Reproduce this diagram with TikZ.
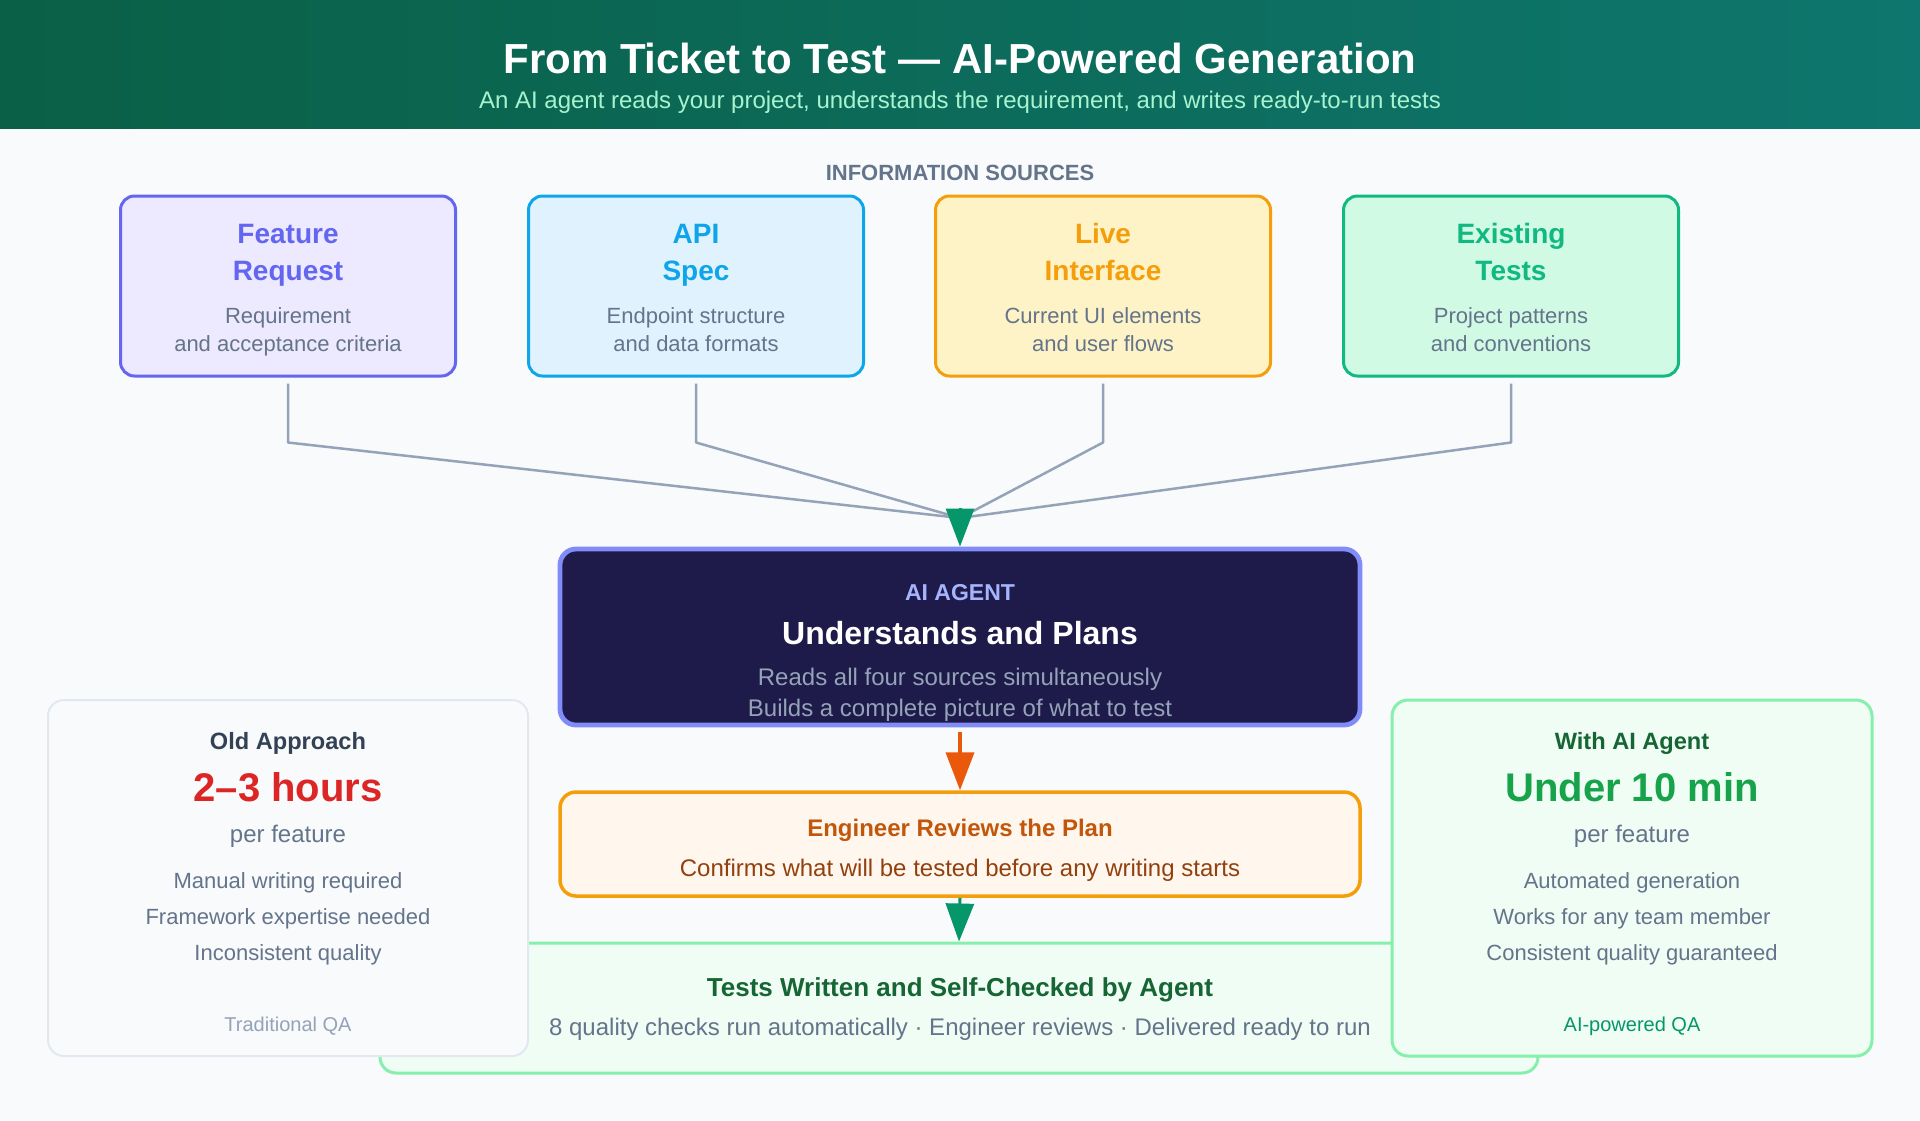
\documentclass[tikz,border=0pt]{standalone}
\usepackage{fontspec}
\setmainfont{Liberation Sans}
\usetikzlibrary{arrows.meta,positioning}

\definecolor{pagebg}{HTML}{F8FAFC}
\definecolor{headl}{HTML}{0A6046}
\definecolor{headr}{HTML}{0E766E}
\definecolor{subtxt}{HTML}{A7F3D0}
\definecolor{slate}{HTML}{64748B}
\definecolor{slatedk}{HTML}{334155}
\definecolor{slatelt}{HTML}{94A3B8}
\definecolor{purpfill}{HTML}{EDE9FE}
\definecolor{purpline}{HTML}{6366F1}
\definecolor{bluefill}{HTML}{E0F2FE}
\definecolor{blueline}{HTML}{0EA5E9}
\definecolor{ambfill}{HTML}{FEF3C7}
\definecolor{ambline}{HTML}{F59E0B}
\definecolor{mintfill}{HTML}{D1FAE5}
\definecolor{mintline}{HTML}{10B981}
\definecolor{agentfill}{HTML}{1E1B4B}
\definecolor{agentline}{HTML}{818CF8}
\definecolor{agentcap}{HTML}{A5B4FC}
\definecolor{arrowgreen}{HTML}{059669}
\definecolor{arroworange}{HTML}{EA580C}
\definecolor{revfill}{HTML}{FFF7ED}
\definecolor{revtitle}{HTML}{C2570C}
\definecolor{revtext}{HTML}{92400E}
\definecolor{okfill}{HTML}{F0FDF4}
\definecolor{okline}{HTML}{86EFAC}
\definecolor{okdark}{HTML}{166534}
\definecolor{okbright}{HTML}{16A34A}
\definecolor{oldline}{HTML}{E2E8F0}
\definecolor{oldred}{HTML}{DC2626}

\begin{document}
\begin{tikzpicture}[x=.5pt,y=-.5pt,every node/.style={text depth=0pt},
  srcbox/.style={rounded corners=7pt,line width=1.5pt,minimum width=167.5pt,minimum height=90pt},
  srctitle/.style={font=\fontsize{14}{18.5}\selectfont\bfseries,align=center},
  srcdesc/.style={font=\fontsize{11}{14}\selectfont,align=center,text=slate},
  feed/.style={draw=slatelt,line width=1.25pt,line join=round},
  wide/.style={rounded corners=8pt,minimum width=400pt},
  sidebox/.style={rounded corners=8pt,minimum width=240pt,minimum height=178pt},
  greenhead/.style={draw=arrowgreen,line width=1.5pt,-{Triangle[length=19pt,width=14pt]}},
  orangehead/.style={draw=arroworange,line width=2pt,-{Triangle[length=19pt,width=14pt]}}]
  \useasboundingbox (0,0) rectangle (1920,1120);
  \fill[pagebg] (0,0) rectangle (1920,1120);
  % header band
  \fill[left color=headl,right color=headr] (0,0) rectangle (1920,128);
  \node[font=\fontsize{21}{24}\selectfont\bfseries,text=white] (title) at (960,58)
    {From Ticket to Test — AI-Powered Generation};
  \node[font=\fontsize{12}{14}\selectfont,text=subtxt] (subtitle) at (960,100)
    {An AI agent reads your project, understands the requirement, and writes ready-to-run tests};
  \node[font=\fontsize{11}{13}\selectfont\bfseries,text=slate] (srchead) at (960,173) {INFORMATION SOURCES};

  % the four sources
  \coordinate (hub) at (960,518);
  \foreach \i/\cx/\bgc/\fgc/\ttl/\dsc in {
    1/288/purpfill/purpline/{Feature\\Request}/{Requirement\\and acceptance criteria},
    2/696/bluefill/blueline/{API\\Spec}/{Endpoint structure\\and data formats},
    3/1103/ambfill/ambline/{Live\\Interface}/{Current UI elements\\and user flows},
    4/1511/mintfill/mintline/{Existing\\Tests}/{Project patterns\\and conventions}}
  {
    \node[srcbox,fill=\bgc,draw=\fgc] (src\i) at (\cx,286) {};
    \node[srctitle,text=\fgc] (srct\i) at (\cx,252) {\ttl};
    \node[srcdesc] (srcd\i) at (\cx,330) {\dsc};
    \draw[feed] ([yshift=-3pt]src\i.south) -- ++(0,59) -- (hub);
  }

  % agent
  \node[wide,minimum height=88pt,fill=agentfill,draw=agentline,line width=2.4pt] (agent) at (960,637) {};
  \node[font=\fontsize{11.5}{13}\selectfont\bfseries,text=agentcap] (agentcap) at (960,592) {AI AGENT};
  \node[font=\fontsize{16}{19}\selectfont\bfseries,text=white] (agentttl) at (960,633) {Understands and Plans};
  \node[font=\fontsize{12}{15.5}\selectfont,text=slatelt,align=center] (agentdsc) at (960,692)
    {Reads all four sources simultaneously\\Builds a complete picture of what to test};
  \coordinate (hubtop) at (960,508);
  \draw[greenhead] (hubtop) -- (agent.north);

  % review
  \node[wide,minimum height=52pt,fill=revfill,draw=ambline,line width=1.75pt] (review) at (960,844) {};
  \node[font=\fontsize{12}{14}\selectfont\bfseries,text=revtitle] (revttl) at (960,828) {Engineer Reviews the Plan};
  \node[font=\fontsize{12}{14}\selectfont,text=revtext] (revdsc) at (960,868)
    {Confirms what will be tested before any writing starts};
  \draw[orangehead] ([yshift=-2.5pt]agent.south) -- (review.north);

  % tests
  \node[rounded corners=8pt,minimum width=579pt,minimum height=65pt,fill=okfill,draw=okline,line width=1.5pt]
    (tests) at (959,1008) {};
  \node[font=\fontsize{13}{15}\selectfont\bfseries,text=okdark] (testttl) at (960,987)
    {Tests Written and Self-Checked by Agent};
  \node[font=\fontsize{12}{14}\selectfont,text=slate] (testdsc) at (960,1027)
    {8 quality checks run automatically · Engineer reviews · Delivered ready to run};
  \draw[greenhead] (review.south) -- (tests.north);

  % comparison cards
  \foreach \k/\cx/\bgc/\edc/\lw/\hd/\hdc/\big/\bigc/\la/\lb/\lc/\ft/\ftc in {
    old/288/pagebg/oldline/1pt/Old Approach/slatedk/2–3 hours/oldred/Manual writing required/Framework expertise needed/Inconsistent quality/Traditional QA/slatelt,
    new/1632/okfill/okline/1.5pt/With AI Agent/okdark/Under 10 min/okbright/Automated generation/Works for any team member/Consistent quality guaranteed/AI-powered QA/arrowgreen}
  {
    \node[sidebox,fill=\bgc,draw=\edc,line width=\lw] (\k) at (\cx,878) {};
    \node[font=\fontsize{11.8}{14}\selectfont\bfseries,text=\hdc] (\k hd) at (\cx,741) {\hd};
    \node[font=\fontsize{20}{24}\selectfont\bfseries,text=\bigc] (\k big) at (\cx,787) {\big};
    \node[font=\fontsize{12}{14}\selectfont,text=slate] (\k per) at (\cx,834) {per feature};
    \node[font=\fontsize{11}{18}\selectfont,text=slate,align=center] (\k pts) at (\cx,917) {\la\\\lb\\\lc};
    \node[font=\fontsize{10}{12}\selectfont,text=\ftc] (\k ft) at (\cx,1024) {\ft};
  }
\end{tikzpicture}
\end{document}
